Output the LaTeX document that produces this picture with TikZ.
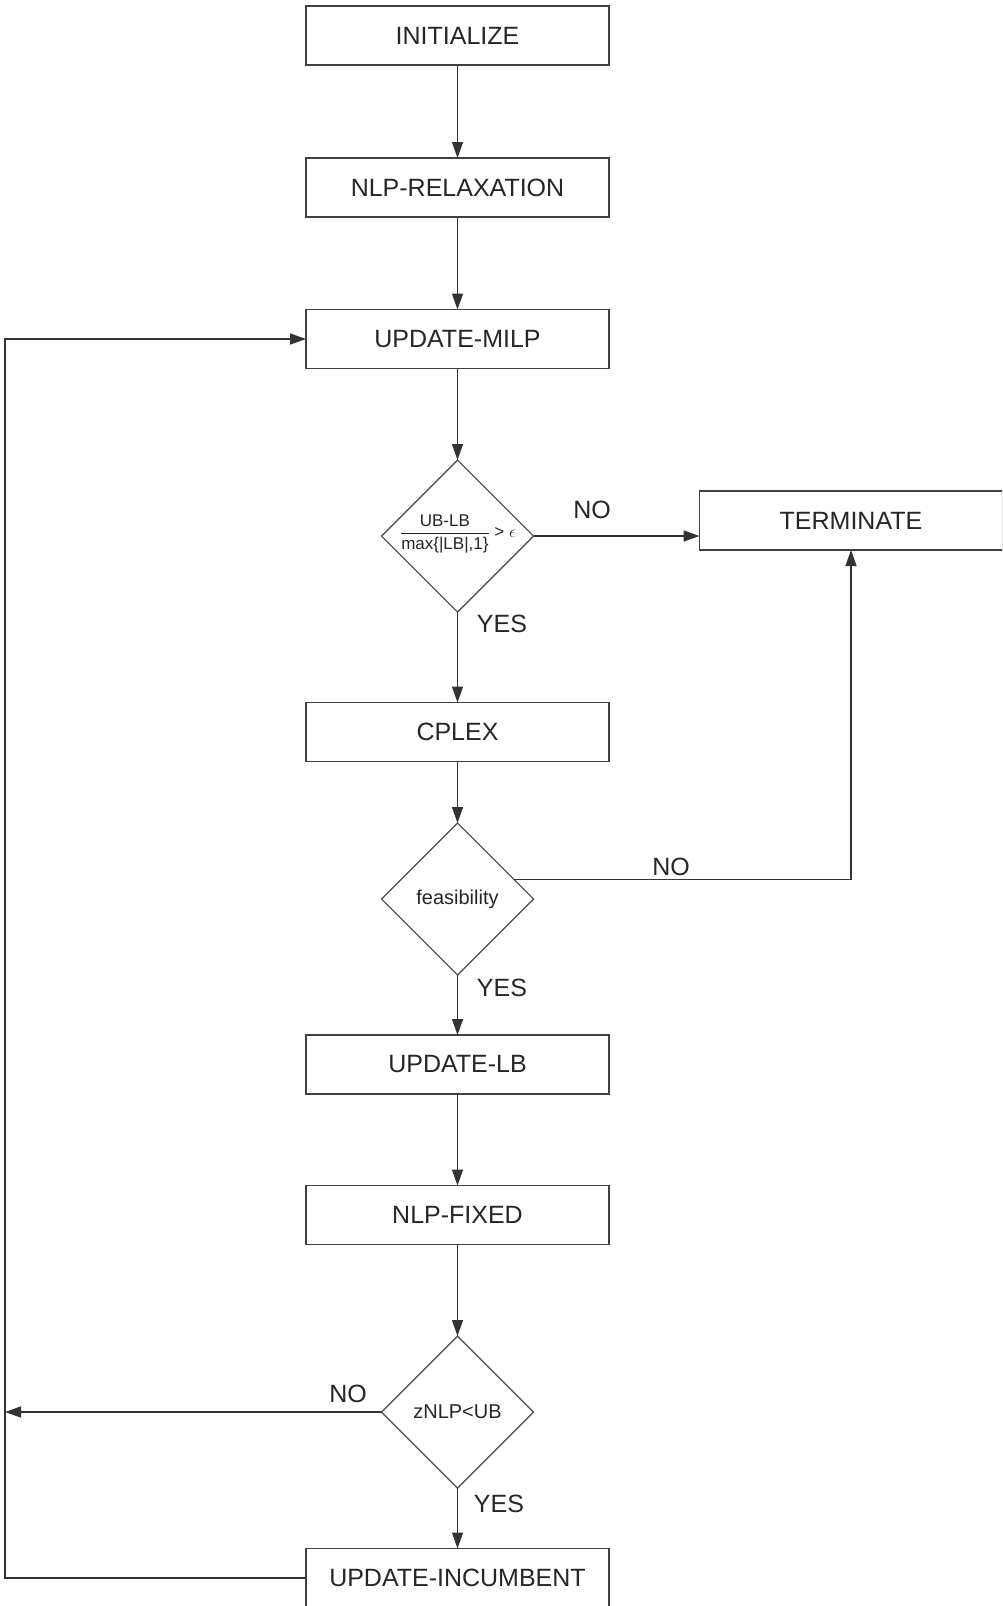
\documentclass[tikz,border=0pt]{standalone}
\usepackage{fontspec}
\setmainfont{Liberation Sans}
\usetikzlibrary{shapes.geometric,arrows.meta,calc}
\begin{document}
\begin{tikzpicture}[x=1pt,y=-1pt,
 line width=1.4pt,
 box/.style={draw=black!75, rectangle, minimum width=303pt, minimum height=59pt, inner sep=0pt, outer sep=0pt, font=\fontsize{25}{29}\selectfont, text=black!85},
 dec/.style={draw=black!65, diamond, minimum width=152pt, minimum height=152pt, inner sep=0pt, outer sep=0pt, aspect=1, font=\fontsize{20}{23}\selectfont, text=black!85},
 lbl/.style={font=\fontsize{25}{29}\selectfont, text=black!85, inner sep=0pt},
 arr/.style={draw=black!80, -{Triangle[length=16pt,width=11pt]}},
 ln/.style={draw=black!80}]
\clip (0,0) rectangle (1002,1606);
\fill[white] (0,0) rectangle (1002,1606);

\node[box] (init) at (457.5,35.5) {INITIALIZE};
\node[box] (relax) at (457.5,187.5) {NLP-RELAXATION};
\node[box] (milp) at (457.5,339) {UPDATE-MILP};
\node[dec] (d1) at (457.5,536) {};
\node[inner sep=0pt, font=\fontsize{17}{20}\selectfont, text=black!85] (d1t) at (458,534) {$\displaystyle\frac{\mbox{UB-LB}}{\mbox{max\{|LB|,1\}}}\mbox{ > }\epsilon$};
\node[box] (term) at (851,520.5) {TERMINATE};
\node[box] (cplex) at (457.5,732) {CPLEX};
\node[dec] (d2) at (457.5,899) {feasibility};
\node[box] (lb) at (457.5,1064.5) {UPDATE-LB};
\node[box] (fixed) at (457.5,1215) {NLP-FIXED};
\node[dec] (d3) at (457.5,1412) {zNLP<UB};
\node[box] (inc) at (457.5,1578) {UPDATE-INCUMBENT};
\coordinate (lc) at (5,339);

\draw[arr] (init) -- (relax);
\draw[arr] (relax) -- (milp);
\draw[arr] (milp) -- (d1);
\draw[arr] (d1.east) -- (d1.east -| term.west);
\draw[arr] (d1) -- (cplex);
\draw[arr] (cplex) -- (d2);
\draw[arr] ($(d2.east)!0.26!(d2.north)$) -| (term.south);
\draw[arr] (d2) -- (lb);
\draw[arr] (lb) -- (fixed);
\draw[arr] (fixed) -- (d3);
\draw[arr] (d3) -- (inc);
\draw[arr] (d3.west) -- (d3.west -| lc);
\draw[arr] (inc.west) -| (lc) -- (milp.west);

\node[lbl] (no1) at (592,510) {NO};
\node[lbl] (yes1) at (502,624) {YES};
\node[lbl] (no2) at (671,867) {NO};
\node[lbl] (yes2) at (502,988) {YES};
\node[lbl] (no3) at (348,1394) {NO};
\node[lbl] (yes3) at (499,1504) {YES};
\end{tikzpicture}
\end{document}
